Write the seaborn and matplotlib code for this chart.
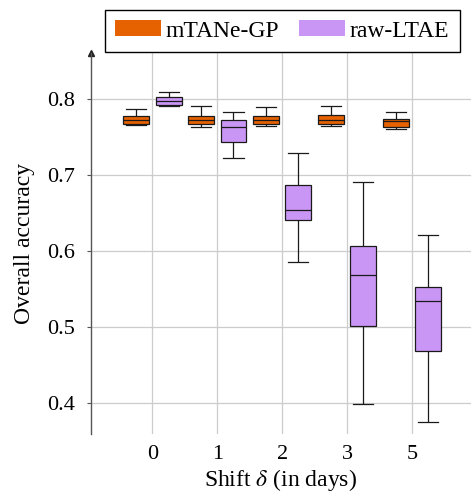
import matplotlib
matplotlib.use("Agg")
import matplotlib.pyplot as plt
from matplotlib.patches import Patch
import pandas as pd
import seaborn as sns

shifts = ["0", "1", "2", "3", "5"]
models = ["mTANe-GP", "raw-LTAE"]
colors = ["#e66100", "#c996f6"]

# five-number summaries (whisker low, q1, median, q3, whisker high)
mtane_low = [0.7658, 0.7636, 0.7649, 0.7640, 0.7610]
mtane_q1 = [0.7675, 0.7671, 0.7667, 0.7675, 0.7636]
mtane_med = [0.7724, 0.7724, 0.7724, 0.7728, 0.7708]
mtane_q3 = [0.7772, 0.7772, 0.7772, 0.7789, 0.7741]
mtane_high = [0.7864, 0.7908, 0.7899, 0.7908, 0.7825]

ltae_low = [0.7912, 0.7228, 0.5855, 0.3987, 0.3741]
ltae_q1 = [0.7921, 0.7438, 0.6412, 0.5004, 0.4684]
ltae_med = [0.7974, 0.7628, 0.6540, 0.5680, 0.5338]
ltae_q3 = [0.8022, 0.7720, 0.6864, 0.6057, 0.5522]
ltae_high = [0.8096, 0.7833, 0.7294, 0.6904, 0.6210]

plt.rcParams["font.family"] = ["Liberation Serif"]
plt.rcParams["mathtext.fontset"] = "stix"
plt.rcParams["font.size"] = 17

rows = []
summaries = {
    "mTANe-GP": [mtane_low, mtane_q1, mtane_med, mtane_q3, mtane_high],
    "raw-LTAE": [ltae_low, ltae_q1, ltae_med, ltae_q3, ltae_high],
}
for model in models:
    for i, s in enumerate(shifts):
        for arr in summaries[model]:
            rows.append({"shift": s, "model": model, "acc": arr[i]})
df = pd.DataFrame(rows)

fig = plt.figure(figsize=(4.71, 4.98), dpi=100)
ax = fig.add_axes([0.1926, 0.1285, 0.8074, 0.7657])

sns.boxplot(data=df, x="shift", y="acc", hue="model", order=shifts,
            hue_order=models, palette=colors, saturation=1,
            width=1.0, gap=0.2, whis=(0, 100), linewidth=0.9,
            linecolor="#1a1a1a", capwidths=0.31, legend=False, ax=ax)

ax.set_xlim(-0.95, 4.91)
ax.set_ylim(0.3587, 0.861)
ax.set_yticks([0.4, 0.5, 0.6, 0.7, 0.8])
ax.set_yticklabels(["0.4", "0.5", "0.6", "0.7", "0.8"])
ax.grid(True, color="#cccccc", linewidth=0.9)
ax.set_axisbelow(True)

for side in ["top", "right", "bottom"]:
    ax.spines[side].set_visible(False)
ax.spines["left"].set_color("#555555")
ax.spines["left"].set_linewidth(1.0)
ax.plot(0, 1, marker="^", markersize=5, color="#222222",
        transform=ax.transAxes, clip_on=False)

ax.tick_params(axis="y", length=3, color="#555555", pad=8, labelsize=16)
ax.tick_params(axis="x", length=0, pad=8, labelsize=16)
ax.set_xlabel(r"Shift $\delta$ (in days)", labelpad=2)
ax.set_ylabel("Overall accuracy", labelpad=9)

handles = [Patch(facecolor=c, edgecolor="none", label=m) for m, c in zip(models, colors)]
leg = fig.legend(handles=handles, ncol=2, loc="upper center",
                 bbox_to_anchor=(0.5994, 0.9805), borderaxespad=0,
                 frameon=True, fancybox=False, edgecolor="black",
                 framealpha=1, handlelength=1.94, handleheight=0.66,
                 columnspacing=0.85, handletextpad=0.2, borderpad=0.45)
leg.get_frame().set_linewidth(1.0)

fig.savefig("out.png", dpi=100)
